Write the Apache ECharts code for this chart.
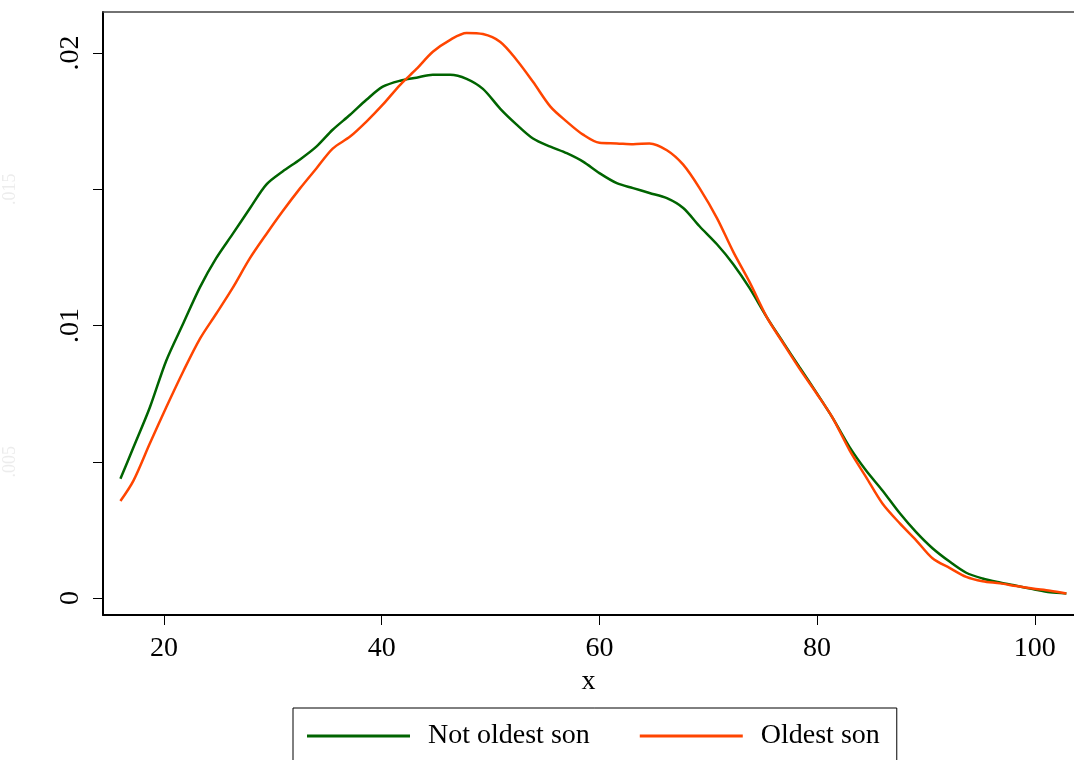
<!DOCTYPE html>
<html>
<head>
<meta charset="utf-8">
<script src="https://cdn.jsdelivr.net/npm/echarts@6/dist/echarts.min.js"></script>
<style>
  html, body { margin: 0; padding: 0; background: #fff; }
  #chart { width: 1074px; height: 760px; }
</style>
</head>
<body>
<div id="chart"></div>
<script>
// age grid shared by both density curves
const xs = [16.0, 17.2, 18.7, 20.2, 21.8, 23.3, 24.8, 26.3, 27.9, 29.4, 30.9, 32.5, 34.0, 35.5, 37.1, 38.6,
  40.1, 41.7, 43.2, 44.7, 46.3, 47.8, 49.3, 50.9, 52.4, 53.9, 55.5, 57.0, 58.5, 60.0, 61.6, 63.1, 64.6,
  66.2, 67.7, 69.2, 70.8, 72.3, 73.8, 75.4, 76.9, 78.4, 80.0, 81.4, 83.0, 84.5, 86.0, 87.6, 89.1, 90.6,
  92.2, 93.7, 95.2, 96.8, 98.3, 99.8, 101.4, 102.9];

const notOldestSon = [0.00438, 0.00553, 0.00699, 0.00870, 0.01010, 0.01140, 0.01247, 0.01335, 0.01430,
  0.01517, 0.01565, 0.01609, 0.01656, 0.01718, 0.01773, 0.01828, 0.01876, 0.01898, 0.01909, 0.01920,
  0.01920, 0.01905, 0.01868, 0.01795, 0.01737, 0.01686, 0.01656, 0.01632, 0.01601, 0.01559, 0.01522,
  0.01504, 0.01486, 0.01467, 0.01431, 0.01364, 0.01298, 0.01225, 0.01137, 0.01029, 0.00937, 0.00846,
  0.00750, 0.00663, 0.00553, 0.00468, 0.00395, 0.00311, 0.00242, 0.00183, 0.00133, 0.00093, 0.00072,
  0.00057, 0.00045, 0.00033, 0.00021, 0.00017];

const oldestSon = [0.00356, 0.00431, 0.00567, 0.00699, 0.00834, 0.00951, 0.01043, 0.01137, 0.01247,
  0.01335, 0.01419, 0.01503, 0.01576, 0.01649, 0.01693, 0.01748, 0.01810, 0.01883, 0.01941, 0.02004,
  0.02048, 0.02073, 0.02069, 0.02040, 0.01974, 0.01894, 0.01803, 0.01748, 0.01700, 0.01670, 0.01668,
  0.01665, 0.01668, 0.01643, 0.01590, 0.01504, 0.01394, 0.01270, 0.01159, 0.01029, 0.00934, 0.00841,
  0.00748, 0.00663, 0.00541, 0.00444, 0.00347, 0.00274, 0.00212, 0.00146, 0.00110, 0.00078, 0.00062,
  0.00054, 0.00044, 0.00035, 0.00027, 0.00017];

const xTicks = [20, 40, 60, 80, 100];
const yTicks = [0, 0.005, 0.01, 0.015, 0.02];
const yLabelTicks = [0, 0.01, 0.02];
const yLabels = ['0', '.01', '.02'];
const yFaintTicks = [0.005, 0.015];
const yFaintLabels = ['.005', '.015'];

const font = 'Liberation Serif';

function labelFor(values, labels) {
  return function (v) {
    for (let i = 0; i < values.length; i++) {
      if (Math.abs(values[i] - v) < 1e-9) return labels[i];
    }
    return '';
  };
}

let chart = echarts.init(document.getElementById('chart'), null, { renderer: 'canvas' });

const option = {
  backgroundColor: '#fff',
  animation: false,
  grid: { left: 103, right: 0, top: 12, bottom: 145 },
  legend: {
    left: 293,
    top: 708,
    padding: [14, 17, 20, 14],
    borderColor: '#000',
    borderWidth: 1,
    itemWidth: 103,
    itemHeight: 3,
    itemGap: 50,
    icon: 'rect',
    textStyle: { fontFamily: font, fontSize: 28, color: '#000', padding: [0, 0, 0, 13] },
    data: ['Not oldest son', 'Oldest son']
  },
  xAxis: [
    {
      type: 'value',
      min: 14.4,
      max: 103.6,
      name: 'x',
      nameLocation: 'middle',
      nameGap: 48,
      nameTextStyle: { fontFamily: font, fontSize: 28, color: '#000' },
      axisLine: { onZero: false, lineStyle: { color: '#000', width: 2 } },
      axisTick: { length: 10, lineStyle: { color: '#000', width: 1 }, customValues: xTicks },
      axisLabel: { fontFamily: font, fontSize: 28, color: '#000', margin: 20, customValues: xTicks },
      splitLine: { show: false }
    },
    {
      type: 'value',
      position: 'top',
      min: 14.4,
      max: 103.6,
      axisLine: { show: true, onZero: false, lineStyle: { color: '#444', width: 1.5 } },
      axisTick: { show: false },
      axisLabel: { show: false },
      splitLine: { show: false }
    }
  ],
  yAxis: [
    {
      type: 'value',
      min: -0.00062,
      max: 0.0215,
      axisLine: { show: true, onZero: false, lineStyle: { color: '#000', width: 2 } },
      axisTick: { show: true, length: 10, lineStyle: { color: '#000', width: 1 }, customValues: yTicks },
      axisLabel: {
        fontFamily: font, fontSize: 28, color: '#000', rotate: 90, margin: 18,
        customValues: yLabelTicks, formatter: labelFor(yLabelTicks, yLabels)
      },
      splitLine: { show: false }
    },
    {
      type: 'value',
      position: 'left',
      offset: 78,
      min: -0.00062,
      max: 0.0215,
      axisLine: { show: false },
      axisTick: { show: false },
      axisLabel: {
        fontFamily: font, fontSize: 18, color: '#ececec', rotate: 90, margin: 6,
        customValues: yFaintTicks, formatter: labelFor(yFaintTicks, yFaintLabels)
      },
      splitLine: { show: false }
    }
  ],
  series: [
    {
      name: 'Not oldest son',
      type: 'line',
      showSymbol: false,
      smooth: 0.3,
      color: '#006400',
      lineStyle: { color: '#006400', width: 2.5 },
      data: xs.map((x, i) => [x, notOldestSon[i]])
    },
    {
      name: 'Oldest son',
      type: 'line',
      showSymbol: false,
      smooth: 0.3,
      color: '#ff4500',
      lineStyle: { color: '#ff4500', width: 2.5 },
      data: xs.map((x, i) => [x, oldestSon[i]])
    }
  ]
};

chart.setOption(option);
</script>
</body>
</html>
